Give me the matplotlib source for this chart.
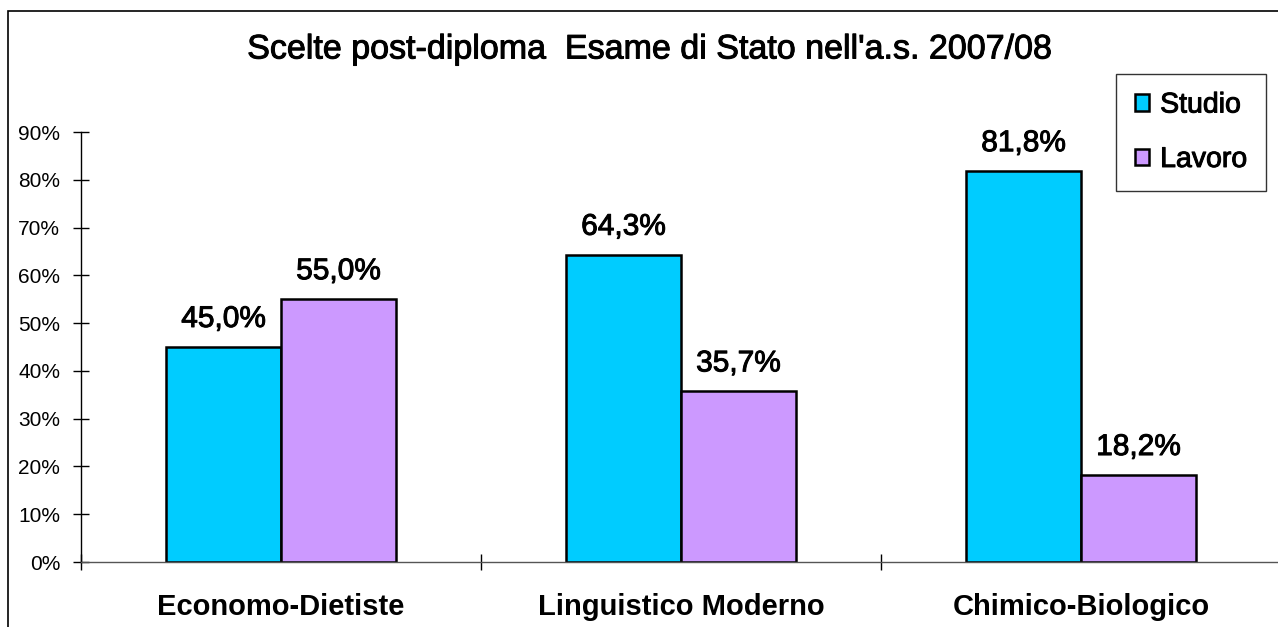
import matplotlib
matplotlib.use("Agg")
import matplotlib.pyplot as plt
import matplotlib.patheffects as pe
import numpy as np
from matplotlib.patches import Rectangle
from matplotlib.ticker import FixedLocator, NullFormatter

categories = ["Economo-Dietiste", "Linguistico Moderno", "Chimico-Biologico"]
studio = [45.0, 64.3, 81.8]
lavoro = [55.0, 35.7, 18.2]
series_names = ["Studio", "Lavoro"]
colors = ["#00CCFF", "#CC99FF"]
yticks = [0, 10, 20, 30, 40, 50, 60, 70, 80, 90]
title = "Scelte post-diploma  Esame di Stato nell'a.s. 2007/08"

plt.rcParams['font.family'] = ['Liberation Sans', 'DejaVu Sans']
heavy = [pe.withStroke(linewidth=0.7, foreground='black')]

fig = plt.figure(figsize=(12.78, 6.27), dpi=100)
ax = fig.add_axes([81/1278, 1-562/627, 1200/1278, (562-132)/627])

x = np.arange(len(categories))
w = 0.2875
b1 = ax.bar(x - w/2, studio, w, color=colors[0], edgecolor='black', linewidth=1.8, label=series_names[0])
b2 = ax.bar(x + w/2, lavoro, w, color=colors[1], edgecolor='black', linewidth=1.8, label=series_names[1])

for bars, vals in ((b1, studio), (b2, lavoro)):
    for r, v in zip(bars, vals):
        ax.annotate(f"{v:.1f}%".replace('.', ','), (r.get_x() + r.get_width()/2, v),
                    xytext=(0, 14), textcoords='offset pixels', ha='center', va='bottom',
                    fontsize=21.5, color='black', path_effects=heavy)

ax.set_xlim(-0.5, len(categories) - 0.5)
ax.set_ylim(0, 90)
ax.set_yticks(yticks)
ax.set_yticklabels([f"{t}%" for t in yticks], fontsize=15)
ax.xaxis.set_major_locator(FixedLocator(x))
ax.set_xticklabels(categories, fontsize=21, fontweight='bold')
ax.tick_params(axis='x', which='major', length=0, pad=22)
ax.xaxis.set_minor_locator(FixedLocator(np.arange(-0.5, len(categories), 1.0)))
ax.xaxis.set_minor_formatter(NullFormatter())
ax.tick_params(axis='x', which='minor', direction='inout', length=12, width=1)
ax.tick_params(axis='y', direction='inout', length=12, width=1, pad=9)
for s in ('top', 'right'):
    ax.spines[s].set_visible(False)
ax.spines['left'].set_linewidth(1)
ax.spines['bottom'].set_linewidth(1)
ax.spines['bottom'].set_color('#555555')

fig.text(650/1278, 1-50/627, title, ha='center', va='center', fontsize=24.5, path_effects=heavy)

leg = ax.legend(loc='upper left', bbox_to_anchor=(1116/1278, 1-74/627), bbox_transform=fig.transFigure,
                fontsize=20.5, frameon=True, fancybox=False, edgecolor='black',
                handlelength=0.5, handleheight=0.5, handletextpad=0.4, labelspacing=1.0,
                borderpad=0.65, borderaxespad=0)
leg.get_frame().set_linewidth(1)
for h in leg.legend_handles:
    h.set_linewidth(1.8)
for t in leg.get_texts():
    t.set_path_effects(heavy)

fig.patches.append(Rectangle((8/1278, -0.1), 1.2, 1-11/627 + 0.1, transform=fig.transFigure,
                             fill=False, edgecolor='black', linewidth=1.2))

fig.savefig("out.png", dpi=100)
